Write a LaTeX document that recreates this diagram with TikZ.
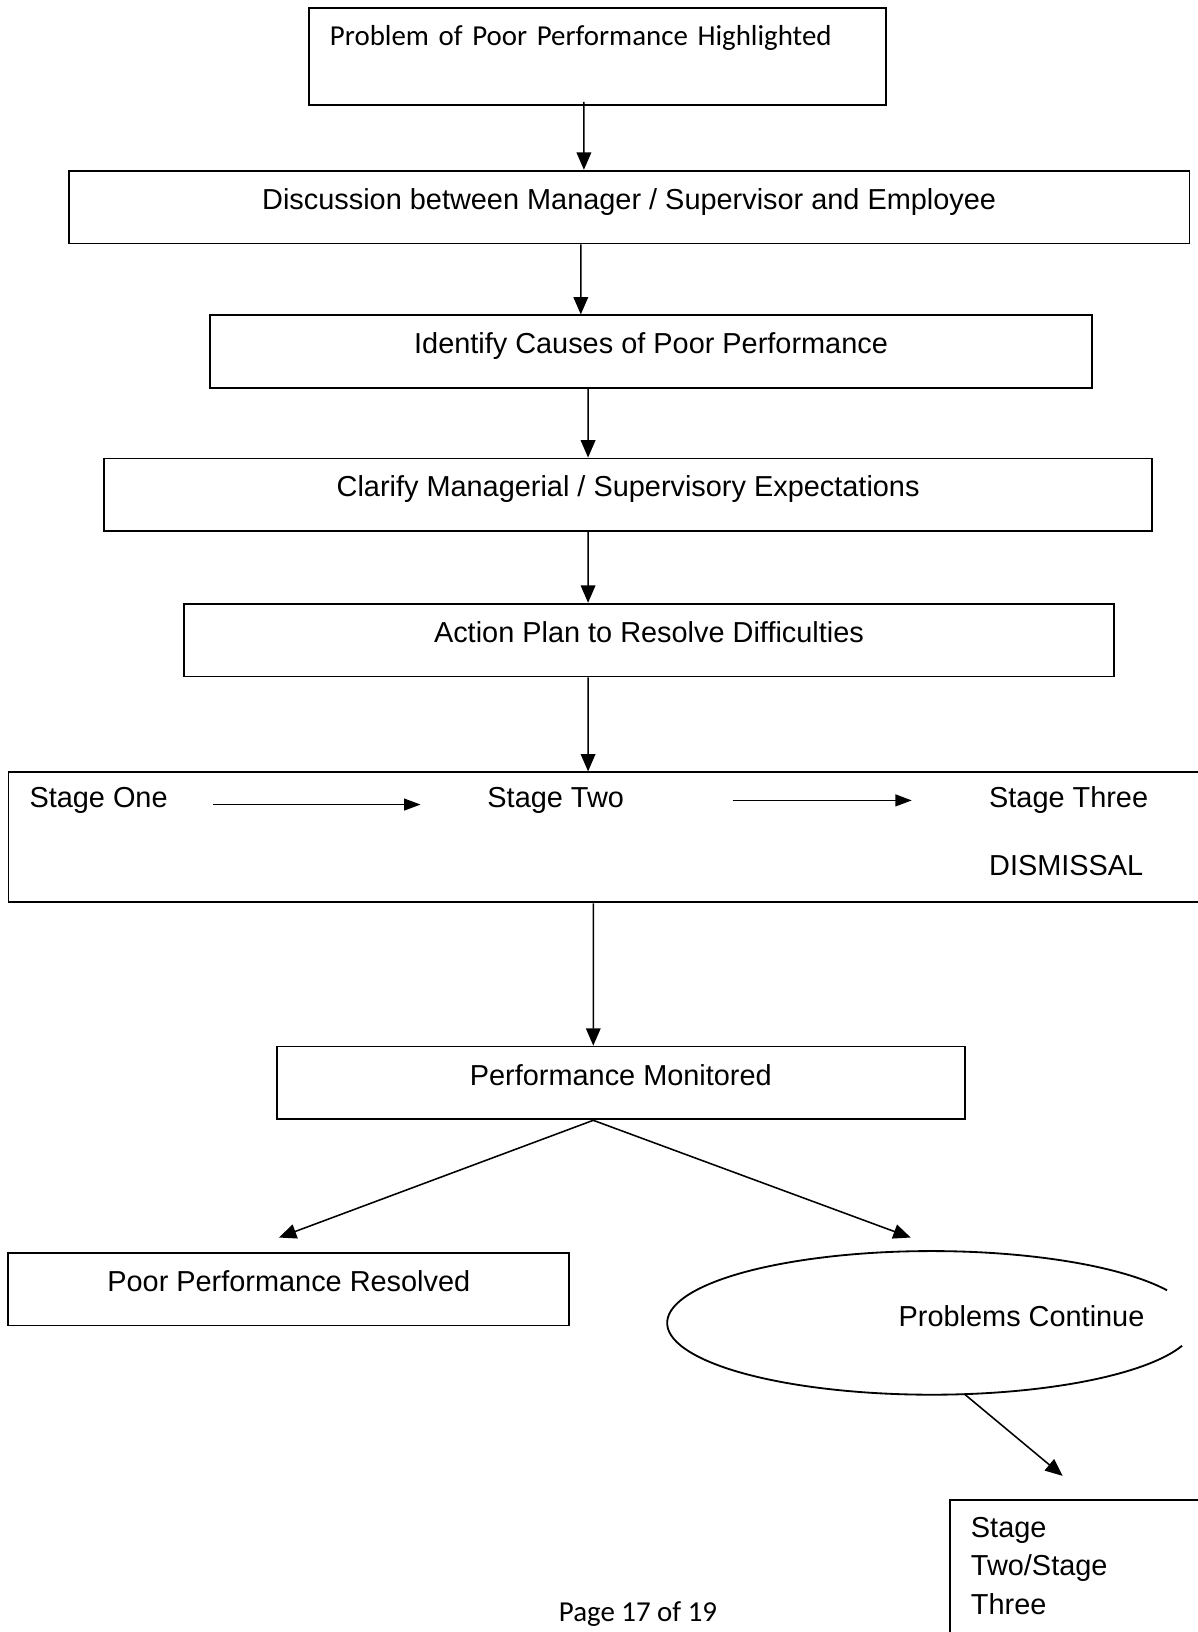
\documentclass[tikz,border=0pt]{standalone}
\usepackage{fontspec}
\setmainfont{Liberation Sans}
\newfontfamily\calibri{Carlito}
\usetikzlibrary{arrows.meta,shapes.geometric}

\begin{document}
\begin{tikzpicture}[x=0.02cm,y=-0.02cm,
  box/.style={draw,line width=1pt,inner sep=0pt,text height=0.74cm,text depth=0.66cm,
              minimum height=1.4cm,font=\fontsize{15.8}{21}\selectfont},
  stagetxt/.style={anchor=west,inner sep=0pt,font=\fontsize{15.8}{21}\selectfont},
  arr/.style={-{Triangle[length=9.5pt,width=8pt]},line width=0.85pt},
  sarr/.style={-{Triangle[length=9pt,width=6.5pt]},line width=0.85pt}]
  \useasboundingbox (0,0) rectangle (1151,1568);
  \clip (0,0) rectangle (1151,1568);

  % main column of boxes
  \node[draw,line width=1pt,inner xsep=0.4cm,inner ysep=0pt,text width=10.28cm,align=left,
        text height=0.72cm,text depth=1.14cm,font=\calibri\fontsize{15.8}{19}\selectfont]
        (b1) at (574,54.5) {Problem of Poor Performance Highlighted};
  \node[box,minimum width=21.54cm] (b2) at (604.5,199) {Discussion between Manager / Supervisor and Employee};
  \node[box,minimum width=16.94cm] (b3) at (625.5,338) {Identify Causes of Poor Performance};
  \node[box,minimum width=20.14cm] (b4) at (603.5,475.5) {Clarify Managerial / Supervisory Expectations};
  \node[box,minimum width=17.86cm] (b5) at (623.5,615) {Action Plan to Resolve Difficulties};

  % stages
  \node[draw,line width=1pt,minimum width=23.28cm,minimum height=2.5cm] (b6) at (590,804.5) {};
  \node[stagetxt] (s1) at (28,769) {Stage One};
  \node[stagetxt] (s2) at (468,769) {Stage Two};
  \node[stagetxt] (s3) at (950,769) {Stage Three};
  \node[stagetxt] (s4) at (950,832) {DISMISSAL};
  \draw[sarr,shorten <=0.86cm,shorten >=1.28cm] ([yshift=-0.08cm]s1.east) -- ([yshift=-0.08cm]s2.west);
  \draw[sarr,shorten <=2.08cm,shorten >=1.48cm] (s2.east) -- (s3.west);

  \node[box,minimum width=13.22cm] (b7) at (596.5,1040.5) {Performance Monitored};
  \node[box,minimum width=10.78cm] (b8) at (277.5,1238.5) {Poor Performance Resolved};

  % ellipse, open on the right
  \node[ellipse,minimum width=10.16cm,minimum height=2.76cm] (e1) at (895,1271) {};
  \draw[line width=1pt] ([shift={(27:5.08cm and 1.38cm)}]e1.center)
    arc[start angle=27,end angle=341.4,x radius=5.08cm,y radius=1.38cm];
  \node[inner sep=0pt,font=\fontsize{15.8}{21}\selectfont] (pc) at (981.5,1265) {Problems Continue};

  \node[draw,line width=1pt,anchor=north west,inner xsep=0.4cm,inner ysep=0.34cm,text width=5.2cm,
        align=left,font=\fontsize{15.8}{21}\selectfont] (b9) at (912,1440) {Stage\\Two/Stage\\Three\\[1cm]\mbox{}};

  \node[inner sep=0pt,font=\calibri\fontsize{15.8}{19}\selectfont] (pg) at (613,1551) {Page 17 of 19};

  \coordinate (r1) at (268,1189);
  \coordinate (r2) at (875,1189);
  \coordinate (r3) at (1021,1418);

  % connectors
  \draw[arr] ([xshift=-0.26cm,yshift=0.08cm]b1.south) -- ([xshift=-0.87cm]b2.north);
  \draw[arr] ([xshift=-0.93cm]b2.south) -- ([xshift=-1.35cm]b3.north);
  \draw[arr] ([xshift=-1.21cm]b3.south) -- ([xshift=-0.77cm]b4.north);
  \draw[arr] ([xshift=-0.77cm]b4.south) -- ([xshift=-1.17cm]b5.north);
  \draw[arr] ([xshift=-1.17cm]b5.south) -- ([xshift=-0.50cm]b6.north);
  \draw[arr] ([xshift=-0.40cm]b6.south) -- ([xshift=-0.53cm]b7.north);
  \draw[arr] ([xshift=-0.53cm]b7.south) -- (r1);
  \draw[arr] ([xshift=-0.53cm]b7.south) -- (r2);
  \draw[arr] (e1.295) -- (r3);
\end{tikzpicture}
\end{document}
